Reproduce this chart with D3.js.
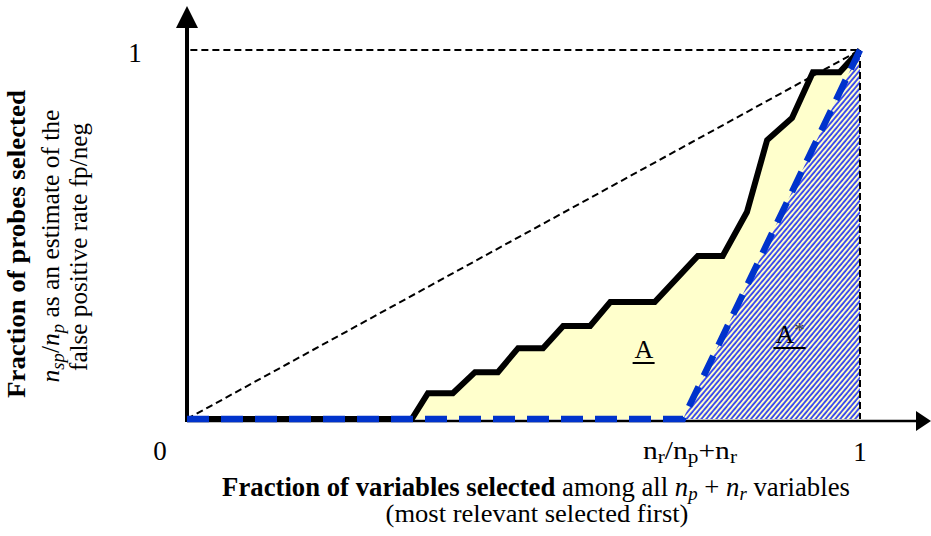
<!DOCTYPE html>
<html>
<head>
<meta charset="utf-8">
<script src="https://cdn.jsdelivr.net/npm/d3@7"></script>
<style>
  html, body { margin: 0; padding: 0; background: #fff; }
  svg { display: block; }
  text { font-family: "Liberation Serif", "Times New Roman", serif; fill: #000; }
</style>
</head>
<body>
<svg id="chart" width="931" height="536" font-family="Liberation Serif, serif"></svg>
<script>
// Fraction of variables selected (x) vs fraction of probes selected (y)
const stepX = [0, 0.334, 0.358, 0.395, 0.428, 0.462, 0.492, 0.529, 0.559, 0.599,
               0.629, 0.695, 0.759, 0.796, 0.832, 0.862, 0.899, 0.930, 0.970, 1];
const stepY = [0, 0, 0.070, 0.070, 0.127, 0.127, 0.192, 0.192, 0.252, 0.252,
               0.317, 0.317, 0.442, 0.442, 0.561, 0.756, 0.816, 0.940, 0.940, 1];

// Ideal ranking: all relevant variables first, then probes
const relevantShare = 0.737;
const idealX = [0, relevantShare, 1];
const idealY = [0, 0, 1];

// Axis tick labels
const xTickValues = [0, relevantShare, 1];
const yTickValues = [1];
const yTickLabels = ["1"];

const svg = d3.select("#chart");
const x = d3.scaleLinear().domain([0, 1]).range([187, 860]);
const y = d3.scaleLinear().domain([0, 1]).range([419, 50]);

const toPts = (xs, ys) => xs.map((v, i) => [v, ys[i]]);
const stepPts = toPts(stepX, stepY);
const idealPts = toPts(idealX, idealY);

// hatch pattern for the area under the ideal curve
const defs = svg.append("defs");
const pat = defs.append("pattern")
  .attr("id", "hatch")
  .attr("patternUnits", "userSpaceOnUse")
  .attr("width", 3.8).attr("height", 10)
  .attr("patternTransform", "rotate(40)");
pat.append("line")
  .attr("x1", 1).attr("y1", 0).attr("x2", 1).attr("y2", 10)
  .attr("stroke", "#0a1cf5").attr("stroke-width", 1.5);

// yellow area under the observed curve
const area = d3.area().x(d => x(d[0])).y0(y(0)).y1(d => y(d[1]));
svg.append("path")
  .datum(stepPts.filter(d => d[0] >= stepX[1]))
  .attr("d", area)
  .attr("fill", "#ffffcc");

// hatched area under the ideal curve
svg.append("path")
  .datum(idealPts.filter(d => d[0] >= relevantShare))
  .attr("d", area)
  .attr("fill", "url(#hatch)");

// dashed reference lines: random ranking diagonal, y=1 and x=1
const line = d3.line().x(d => x(d[0])).y(d => y(d[1]));
const guides = [
  [[0, 0], [1, 1]],
  [[0.005, 1], [1, 1]],
  [[1, 1], [1, 0]]
];
svg.selectAll("path.guide").data(guides).join("path")
  .attr("class", "guide")
  .attr("d", line)
  .attr("fill", "none")
  .attr("stroke", "#000")
  .attr("stroke-width", 2)
  .attr("stroke-dasharray", "7,4");

// axes with arrowheads
const axisY0 = y(0) + 2;
svg.append("line")
  .attr("x1", x(0)).attr("y1", axisY0).attr("x2", 918).attr("y2", axisY0)
  .attr("stroke", "#000").attr("stroke-width", 2.5);
svg.append("path")
  .attr("d", `M931,${axisY0} L916,${axisY0 - 10} L916,${axisY0 + 10} Z`)
  .attr("fill", "#000");
svg.append("line")
  .attr("x1", x(0)).attr("y1", axisY0 + 1).attr("x2", x(0)).attr("y2", 24)
  .attr("stroke", "#000").attr("stroke-width", 4);
svg.append("path")
  .attr("d", `M${x(0)},6 L${x(0) - 11},28 L${x(0) + 11},28 Z`)
  .attr("fill", "#000");

// observed curve
svg.append("path")
  .datum(stepPts)
  .attr("d", line)
  .attr("fill", "none")
  .attr("stroke", "#000")
  .attr("stroke-width", 6)
  .attr("stroke-linejoin", "miter");

// ideal curve
svg.append("path")
  .datum(idealPts)
  .attr("d", line)
  .attr("fill", "none")
  .attr("stroke", "#0033cc")
  .attr("stroke-width", 6.5)
  .attr("stroke-dasharray", "22,12");

// shrink a text element horizontally so that it spans the given length
function fit(sel, len, tx, ty, rot) {
  const w = sel.node().getComputedTextLength();
  const s = len / w;
  sel.attr("transform", `translate(${tx},${ty})` + (rot ? ` rotate(${rot})` : "") + ` scale(${s},1)`);
  return sel;
}
const serif = "Liberation Serif, serif";

// tick labels
const tickFont = 27;
svg.append("text").attr("x", x(xTickValues[0]) - 27).attr("y", 460)
  .attr("font-family", serif)
  .attr("text-anchor", "middle").attr("font-size", tickFont).text("0");
svg.append("text").attr("x", x(xTickValues[2])).attr("y", 461)
  .attr("font-family", serif)
  .attr("text-anchor", "middle").attr("font-size", tickFont).text("1");
yTickValues.forEach((v, i) => {
  svg.append("text").attr("x", x(0) - 52).attr("y", y(v) + 12)
    .attr("font-family", serif)
    .attr("text-anchor", "middle").attr("font-size", tickFont).text(yTickLabels[i]);
});

// n_r / n_p + n_r label at the split point
{
  const t = svg.append("text").attr("text-anchor", "middle").attr("font-size", 25)
    .attr("font-family", serif);
  const sub = 18;
  t.append("tspan").text("n");
  t.append("tspan").attr("font-size", sub).attr("dy", 4).text("r");
  t.append("tspan").attr("dy", -4).text("/n");
  t.append("tspan").attr("font-size", sub).attr("dy", 4).text("p");
  t.append("tspan").attr("dy", -4).text("+n");
  t.append("tspan").attr("font-size", sub).attr("dy", 4).text("r");
  fit(t, 94, x(xTickValues[1]) + 7, 459);
}

// area labels
function underlined(txt, cx, by, size, star) {
  const t = svg.append("text").attr("x", cx).attr("y", by)
    .attr("font-family", serif)
    .attr("text-anchor", "middle").attr("font-size", size);
  t.append("tspan").text(txt);
  if (star) t.append("tspan").attr("font-size", size * 0.8).attr("dy", -6).attr("fill", "#444").text("*");
  const b = t.node().getBBox();
  svg.append("line")
    .attr("x1", b.x - 2).attr("x2", b.x + b.width + 1)
    .attr("y1", by + 5).attr("y2", by + 5)
    .attr("stroke", "#000").attr("stroke-width", 2);
}
underlined("A", 644, 358, 26, false);
underlined("A", 790, 343, 26, true);

// x axis title
{
  const t = svg.append("text").attr("text-anchor", "middle").attr("font-size", 27)
    .attr("font-family", serif);
  t.append("tspan").attr("font-weight", "bold").text("Fraction of variables selected");
  t.append("tspan").text(" among all ");
  t.append("tspan").attr("font-style", "italic").text("n");
  t.append("tspan").attr("font-style", "italic").attr("font-size", 19).attr("dy", 4).text("p");
  t.append("tspan").attr("dy", -4).text(" + ");
  t.append("tspan").attr("font-style", "italic").text("n");
  t.append("tspan").attr("font-style", "italic").attr("font-size", 19).attr("dy", 4).text("r");
  t.append("tspan").attr("dy", -4).text(" variables");
  fit(t, 628, 536, 496);

  const t2 = svg.append("text").attr("text-anchor", "middle").attr("font-size", 26)
    .attr("font-family", serif)
    .text("(most relevant selected first)");
  fit(t2, 303, 537, 522);
}

// y axis title (rotated, three lines)
{
  const t1 = svg.append("text").attr("text-anchor", "middle").attr("font-size", 26)
    .attr("font-family", serif)
    .attr("font-weight", "bold").text("Fraction of probes selected");
  fit(t1, 308, 25, 244, -90);

  const t2 = svg.append("text").attr("text-anchor", "middle").attr("font-size", 26)
    .attr("font-family", serif);
  t2.append("tspan").attr("font-style", "italic").text("n");
  t2.append("tspan").attr("font-style", "italic").attr("font-size", 19).attr("dy", 5).text("sp");
  t2.append("tspan").attr("dy", -5).text("/");
  t2.append("tspan").attr("font-style", "italic").text("n");
  t2.append("tspan").attr("font-style", "italic").attr("font-size", 19).attr("dy", 5).text("p");
  t2.append("tspan").attr("dy", -5).text(" as an estimate of the");
  fit(t2, 273, 59, 246, -90);

  const t3 = svg.append("text").attr("text-anchor", "middle").attr("font-size", 26)
    .attr("font-family", serif)
    .text("false positive rate fp/neg");
  fit(t3, 248, 87, 247, -90);
}
</script>
</body>
</html>
